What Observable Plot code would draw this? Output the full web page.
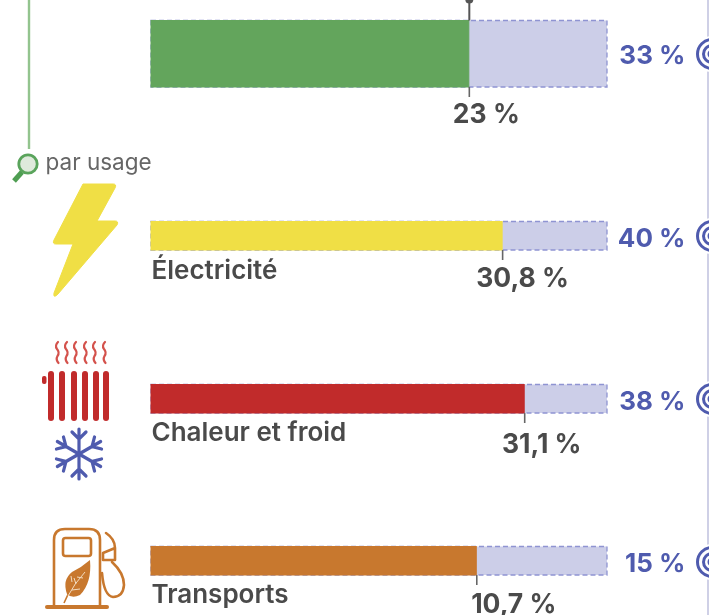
<!DOCTYPE html>
<html><head><meta charset="utf-8">
<script src="https://cdn.jsdelivr.net/npm/d3@7"></script>
<script src="https://cdn.jsdelivr.net/npm/@observablehq/plot@0.6"></script>
<style>html,body{margin:0;padding:0;background:#fff;overflow:hidden}svg{display:block;filter:blur(0.45px)}</style>
</head><body><div id="chart"></div>
<script>
const categories = ["Total", "Électricité", "Chaleur et froid", "Transports"];
const actual = [23, 30.8, 31.1, 10.7];
const actualLabels = ["23 %", "30,8 %", "31,1 %", "10,7 %"];
const targets = [33, 40, 38, 15];
const colors = ["#63a55c", "#f0df45", "#c12b2b", "#c8782e"];
const groupLabel = "par usage";

const GREY = "#4a4a4a", BLUE = "#4f5bae", LILAC = "#cccee8";
// page layout of each row, in pixels
const plotW = 456;
const rowTop = [20.5, 221.5, 384.5, 546.5];
const rowH = [66.5, 28.5, 28.5, 28.5];
const labelDx = [17, 20, 17, 37];
const labelDy = [27, 28.5, 31, 29];
const catDy = [0, 20.5, 19, 19];
const targetDy = [1.5, 2, 2, 2.5];
const rows = categories.map((c, i) => ({
  c, i, v: actual[i], t: targets[i], ratio: actual[i] / targets[i],
  labelX: actual[i] / targets[i] + labelDx[i] / plotW,
  label: actualLabels[i], color: colors[i],
  y1: rowTop[i], y2: rowTop[i] + rowH[i],
  mid: rowTop[i] + rowH[i] / 2
}));

const g = (html) => () => {
  const e = document.createElementNS("http://www.w3.org/2000/svg", "g");
  e.innerHTML = html;
  return e;
};
const target = (cy) => `<circle cx="712" cy="${cy}" r="18" fill="#fff"/>
  <g fill="none" stroke="${BLUE}" stroke-width="3">
  <circle cx="712" cy="${cy}" r="14.5"/><circle cx="712" cy="${cy}" r="8.5"/><circle cx="712" cy="${cy}" r="3"/></g>`;

const icons = g(`
  <path d="M29 0V149" stroke="#93c48e" stroke-width="2.4" fill="none"/>
  <path d="M22 172L14 181" stroke="#4f9e52" stroke-width="5" fill="none"/>
  <circle cx="28" cy="164" r="9.2" fill="#dfeadc" stroke="#5aa45c" stroke-width="2.8"/>
  <path d="M708 0V615" stroke="#cfd0e6" stroke-width="2"/>
  ${target(54)}${target(236)}${target(399)}${target(562)}
  <path d="M83 184H113Q117 184 115 188L97 221H115Q119 221 117 225L58 294Q53 299 54 293L73 244H56Q52 244 54 240Z" fill="#f0df45" stroke="#f0df45" stroke-linejoin="round"/>
  <g fill="none" stroke="#d4524c" stroke-width="2.2" stroke-linecap="round">
    ${[58,67,76,86,95,105].map(x => `<path d="M${x} 342q-3.5 3.5 -1 7q3 3.5 0.5 7q-2 3.5 1 7"/>`).join("")}
  </g>
  <g fill="#c12b2b">
    ${[48,59,71,82,93,103].map(x => `<rect x="${x}" y="371" width="6" height="50" rx="3"/>`).join("")}
    <rect x="42" y="376" width="4.5" height="8" rx="2"/>
  </g>
  <g stroke="#4f5bae" stroke-width="3.2" fill="none" stroke-linecap="round" transform="translate(79,454)">
    ${[0,60,120,180,240,300].map(a => `<g transform="rotate(${a})"><path d="M0 0V-25M-7 -22L0 -15L7 -22"/></g>`).join("")}
  </g>
  <g fill="none" stroke="#c8782e" stroke-width="2.6" stroke-linecap="round" stroke-linejoin="round">
    <path d="M54 606V540Q54 529 65 529H89Q100 529 100 540V606"/>
    <path d="M47 607H107" stroke-width="4"/>
    <rect x="63" y="538" width="28" height="18" rx="2.5"/>
    <path d="M106 533Q115 539 115 548V560H103V553L115 548"/>
    <path d="M112 562Q124 573 124 585Q123 597 113 597Q104 596 102 573"/>
  </g>
  <path d="M90 560Q92 583 80 595Q72 599 67 594Q62 580 72 572Q82 567 90 560Z" fill="#c8782e"/>
  <path d="M64 603Q70 588 86 570" fill="none" stroke="#c8782e" stroke-width="1.6"/>
  <path d="M68 596Q74 584 85 572M72 582L71 576M77 577L83 578M76 584L74 578M72 590L80 589" fill="none" stroke="#f3dcc0" stroke-width="1"/>
`);

const chart = Plot.plot({
  width: 709, height: 615, margin: 0,
  style: {background: "#fff", fontFamily: "Inter, sans-serif", overflow: "hidden"},
  x: {domain: [0, 1], range: [151, 607], axis: null},
  y: {domain: [0, 615], range: [0, 615], axis: null},
  marks: [
    icons,
    // target bar
    Plot.rect(rows, {x1: 0, x2: 1, y1: "y1", y2: "y2", fill: LILAC, stroke: "#8f94d2", strokeWidth: 1.3, strokeDasharray: "5 3"}),
    // achieved bar
    Plot.rect(rows, {x1: 0, x2: "ratio", y1: "y1", y2: "y2", fill: "color", stroke: "color", strokeWidth: 1}),
    // tick under each bar
    Plot.ruleX(rows, {x: "ratio", y1: "y2", y2: d => d.y2 + 10, stroke: "#666", strokeWidth: 1.6}),
    // tick and dot above the first bar
    Plot.ruleX(rows.slice(0, 1), {x: "ratio", y1: -2, y2: "y1", stroke: "#555", strokeWidth: 2}),
    Plot.dot(rows.slice(0, 1), {x: "ratio", y: -1, r: 4, fill: "#555"}),
    // category labels
    Plot.text(rows.slice(1), {x: 0, y: d => d.y2 + catDy[d.i], text: "c", textAnchor: "start", fill: GREY, fontSize: 26, fontWeight: 600}),
    // achieved value
    Plot.text(rows, {x: "labelX", y: d => d.y2 + labelDy[d.i], text: "label", textAnchor: "middle", fill: GREY, fontSize: 26.5, fontWeight: 700}),
    // target value
    Plot.text(rows, {x: 1, dx: 78, y: d => d.mid + targetDy[d.i], text: d => `${d.t} %`, textAnchor: "end", fill: BLUE, fontSize: 26, fontWeight: 700}),
    Plot.text([groupLabel], {x: 0, dx: -106, y: 162, text: d => d, textAnchor: "start", fill: "#666", fontSize: 22.5, fontWeight: 400})
  ]
});
document.getElementById("chart").append(chart);
</script></body></html>
